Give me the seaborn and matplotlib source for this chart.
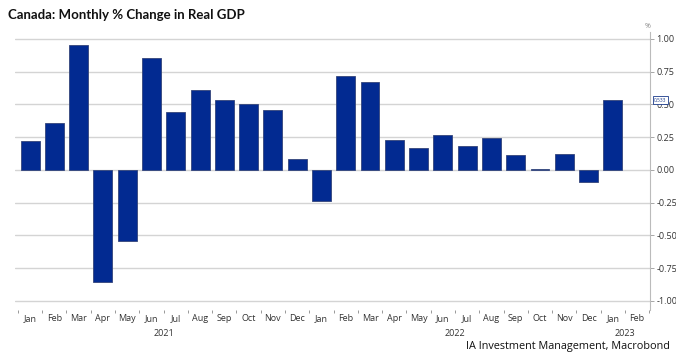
import numpy as np
import pandas as pd
import matplotlib
matplotlib.use("Agg")
import matplotlib.pyplot as plt
import seaborn as sns

months = ["Jan", "Feb", "Mar", "Apr", "May", "Jun", "Jul", "Aug", "Sep", "Oct", "Nov", "Dec",
          "Jan", "Feb", "Mar", "Apr", "May", "Jun", "Jul", "Aug", "Sep", "Oct", "Nov", "Dec",
          "Jan", "Feb"]
years = ["2021"] * 12 + ["2022"] * 12 + ["2023"] * 2
values = [0.22, 0.36, 0.95, -0.855, -0.54, 0.855, 0.44, 0.61, 0.53, 0.50, 0.46, 0.085,
          -0.24, 0.72, 0.67, 0.23, 0.17, 0.27, 0.18, 0.245, 0.11, 0.01, 0.12, -0.09,
          0.533, np.nan]
yticks = [1.00, 0.75, 0.50, 0.25, 0.00, -0.25, -0.50, -0.75, -1.00]
title = "Canada: Monthly % Change in Real GDP"
source = "IA Investment Management, Macrobond"
last_label = "0.533"

periods = [f"{m} {y}" for m, y in zip(months, years)]
df = pd.DataFrame({"period": periods, "value": values})

sns.set_theme(style="white")
plt.rcParams["font.family"] = ["Open Sans", "DejaVu Sans"]

fig = plt.figure(figsize=(6.76, 3.53), dpi=100)
ax = fig.add_axes([15 / 676, 1 - 310 / 353, 635 / 676, (310 - 32.4) / 353])

sns.barplot(data=df.dropna(), x="period", y="value", order=periods, color="#022a91",
            saturation=1, width=0.78, edgecolor="#34457a", linewidth=0.6, ax=ax, zorder=3)

ax.set_xlim(-0.62, 25.53)
ax.set_ylim(-1.07, 1.05)
ax.yaxis.tick_right()
ax.set_yticks(yticks)
ax.set_yticklabels([f"{v:.2f}" for v in yticks], fontsize=6.5, color="#333333")
ax.tick_params(axis="y", which="major", length=3, width=0.6, color="#999999", pad=1.5, right=True, left=False)
ax.yaxis.grid(True, color="#d4d4d4", linewidth=1.0, zorder=0)
ax.xaxis.grid(False)

for s in ["top", "left", "bottom"]:
    ax.spines[s].set_visible(False)
ax.spines["right"].set_color("#bbbbbb")
ax.spines["right"].set_linewidth(0.8)

ax.set_xticks(range(len(months)))
ax.set_xticklabels(months, fontsize=6.5, color="#333333")
ax.tick_params(axis="x", which="major", length=0, pad=3)
ax.set_xticks(np.arange(-0.5, len(months), 1.0), minor=True)
ax.tick_params(axis="x", which="minor", length=2, width=0.6, color="#888888", bottom=True)
ax.set_xlabel("")
ax.set_ylabel("")

# year labels
for yr, center in [("2021", 5.5), ("2022", 17.5), ("2023", 24.5)]:
    ax.text(center, -23 / 277.6, yr, transform=ax.get_xaxis_transform(), ha="center", va="center",
            fontsize=6.5, color="#333333")

fig.text(8 / 676, 1 - 15 / 353, title, fontsize=9.5, fontweight="bold", color="#111111",
         ha="left", va="center", family=["Lato", "DejaVu Sans"])
fig.text(670 / 676, 1 - 346 / 353, source, fontsize=7.8, color="#111111", ha="right", va="center")
fig.text(648 / 676, 1 - 26 / 353, "%", fontsize=5, color="#888888", ha="center", va="center")

# last value label
ax.annotate(last_label, xy=(25.53, values[24]), xycoords="data",
            xytext=(3, 0), textcoords="offset points", ha="left", va="center",
            fontsize=3.5, color="#1a3a8a",
            bbox=dict(boxstyle="square,pad=0.25", fc="white", ec="#1a3a8a", lw=0.6),
            annotation_clip=False, zorder=5)

fig.savefig("out.png", dpi=100)
